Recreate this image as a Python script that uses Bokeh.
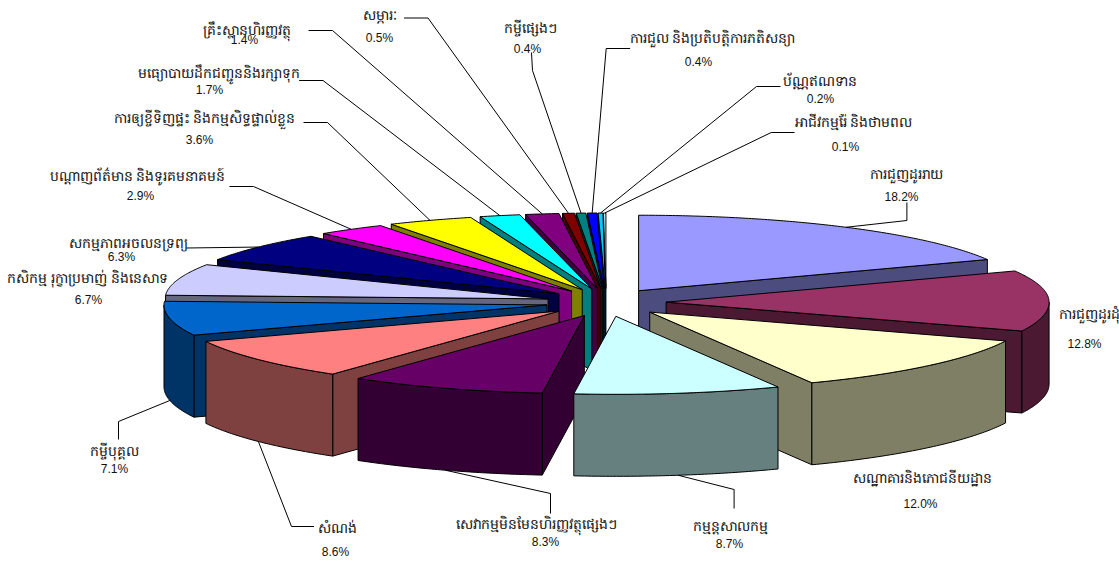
import numpy as np
from bokeh.core.properties import value
from bokeh.embed import file_html
from bokeh.models import ColumnDataSource, Range1d
from bokeh.plotting import figure
from bokeh.resources import INLINE

# Loan shares by sector, clockwise from twelve o'clock
sectors = [
    "ការជួញដូររាយ", "ការជួញដូរដុំ", "សណ្ឋាគារនិងភោជនីយដ្ឋាន", "កម្មន្តសាលកម្ម",
    "សេវាកម្មមិនមែនហិរញ្ញវត្ថុផ្សេងៗ", "សំណង់", "កម្ចីបុគ្គល",
    "កសិកម្ម រុក្ខាប្រមាញ់ និងនេសាទ", "សកម្មភាពអចលនទ្រព្យ",
    "បណ្តាញព័ត៌មាន និងទូរគមនាគមន៍", "ការឲ្យខ្ចីទិញផ្ទះ និងកម្មសិទ្ធផ្ទាល់ខ្លួន",
    "មធ្យោបាយដឹកជញ្ជូននិងរក្សាទុក", "គ្រឹះស្ថានហិរញ្ញវត្ថុ", "សម្ភារៈ",
    "កម្ចីផ្សេងៗ", "ការជួល និងប្រតិបត្តិការភតិសន្យា", "ប័ណ្ណឥណទាន",
    "អាជីវកម្មរ៉ែ និងថាមពល",
]
shares = [18.2, 12.8, 12.0, 8.7, 8.3, 8.6, 7.1, 6.7, 6.3,
          2.9, 3.6, 1.7, 1.4, 0.5, 0.4, 0.4, 0.2, 0.1]
colors = ["#9999FF", "#993366", "#FFFFCC", "#CCFFFF", "#660066", "#FF8080",
          "#0066CC", "#CCCCFF", "#000080", "#FF00FF", "#FFFF00", "#00FFFF",
          "#800080", "#800000", "#008080", "#0000FF", "#00CCFF", "#CCFFFF"]

# Projection of the tilted, exploded pie onto the page
CX, CY = 605.6, 302.0
RX = 383.0
RY_BACK, RY_FRONT = 75.5, 78.0  # the far half is foreshortened a little more
EX, EY = 60.0, 14.0
DEPTH = 82.0

# Label layout: (name x, name y, percent x, percent y)
label_pos = [
    (906, 173, 901, 196), (1089, 313, 1084, 343), (922, 477, 920, 503),
    (730, 525, 729, 543), (536, 523, 545, 541), (337, 527, 335, 551),
    (114, 450, 114, 468), (87, 277, 88, 299), (128, 242, 121, 256),
    (137, 175, 140, 195), (204, 117, 199, 139), (218, 72, 209, 89),
    (246, 29, 244, 39), (379, 14, 379, 37), (530, 27, 527, 48),
    (712, 37, 698, 61), (819, 80, 820, 98), (853, 121, 845, 146),
]
# Leader lines: label-side points; the last point is found on the slice
leader_knees = {
    0: [(906.4, 202), (906.4, 220)],
    3: [(733.6, 508), (733.6, 489)],
    4: [(550, 513), (550, 493)],
    5: [(313.6, 526), (291, 526)],
    6: [(118, 439), (118, 421)],
    8: [(186, 247.5)],
    9: [(229, 186), (253, 186)],
    10: [(303, 122), (327, 122)],
    11: [(298.6, 80), (322.5, 80)],
    12: [(308, 30), (332, 30)],
    13: [(403.6, 17.5), (427.5, 17.5)],
    14: [(531, 52), (532, 70)],
    15: [(629.6, 48), (605.7, 48)],
    16: [(780, 86), (756, 86)],
    17: [(794, 132), (770.7, 132)],
}


def darken(hex_color):
    r, g, b = (int(hex_color[i:i + 2], 16) for i in (1, 3, 5))
    return f"#{r // 2:02X}{g // 2:02X}{b // 2:02X}"


total = sum(shares)
edges = np.radians(np.concatenate([[0.0], np.cumsum(shares)]) * 360.0 / total)

xs, ys, fills = [], [], []
leaders_x, leaders_y = [], []
slices = []
for i, (a0, a1) in enumerate(zip(edges[:-1], edges[1:])):
    mid = (a0 + a1) / 2
    ox = CX + EX * np.sin(mid)
    oy = CY - EY * np.cos(mid)
    slices.append((abs(np.degrees(mid) - 180), i, a0, a1, mid, ox, oy))


def rim(ox, oy, t):
    c = np.cos(t)
    return ox + RX * np.sin(t), oy - np.where(c > 0, RY_BACK, RY_FRONT) * c


def add(px, py, color):
    xs.append(list(np.round(px, 2)))
    ys.append(list(np.round(py, 2)))
    fills.append(color)


# Paint from the back of the pie towards the viewer
for _, i, a0, a1, mid, ox, oy in sorted(slices, key=lambda s: -s[0]):
    top = colors[i]
    side = darken(top)
    # radial walls facing the viewer
    if a1 < np.pi:
        ex, ey = rim(ox, oy, a1)
        add([ox, ex, ex, ox], [oy, ey, ey + DEPTH, oy + DEPTH], side)
    if a0 > np.pi:
        ex, ey = rim(ox, oy, a0)
        add([ox, ex, ex, ox], [oy, ey, ey + DEPTH, oy + DEPTH], side)
    # outer curved wall on the front half
    lo, hi = max(a0, np.pi / 2), min(a1, 3 * np.pi / 2)
    if hi > lo:
        t = np.linspace(lo, hi, 60)
        wx, wy = rim(ox, oy, t)
        add(np.r_[wx, wx[::-1]], np.r_[wy, wy[::-1] + DEPTH], side)
    # top face
    t = np.linspace(a0, a1, max(3, int(np.degrees(a1 - a0) * 2)))
    tx, ty = rim(ox, oy, t)
    add(np.r_[ox, tx], np.r_[oy, ty], top)

    # leader ends on the bottom rim for front slices, on the top rim at the back
    if i in leader_knees:
        mx, my = rim(ox, oy, mid)
        mx, my = float(mx), float(my)
        if np.pi / 2 < mid < 3 * np.pi / 2:
            my += DEPTH
        pts = leader_knees[i] + [(mx, my)]
        leaders_x.append([q[0] for q in pts])
        leaders_y.append([q[1] for q in pts])

p = figure(width=1119, height=561, output_backend="svg", toolbar_location=None,
           x_range=Range1d(0, 1119), y_range=Range1d(561, 0),
           min_border=0, outline_line_color=None)
p.axis.visible = False
p.grid.visible = False
p.background_fill_color = "white"

p.patches(xs, ys, fill_color=fills, line_color="black", line_width=1,
          line_join="round")
p.multi_line(leaders_x, leaders_y, line_color="black", line_width=1)

names = ColumnDataSource(dict(
    x=[q[0] for q in label_pos], y=[q[1] for q in label_pos], text=sectors))
pcts = ColumnDataSource(dict(
    x=[q[2] for q in label_pos], y=[q[3] for q in label_pos],
    text=[f"{s:.1f}%" for s in shares]))

p.text("x", "y", "text", source=names, text_align="center",
       text_baseline="middle", text_font=value("Noto Sans"),
       text_font_size="14px", text_color="#111111")
p.text("x", "y", "text", source=pcts, text_align="center",
       text_baseline="middle", text_font=value("Liberation Sans"),
       text_font_size="12px", text_color="#111111")

open("out.html", "w").write(file_html(p, INLINE))
